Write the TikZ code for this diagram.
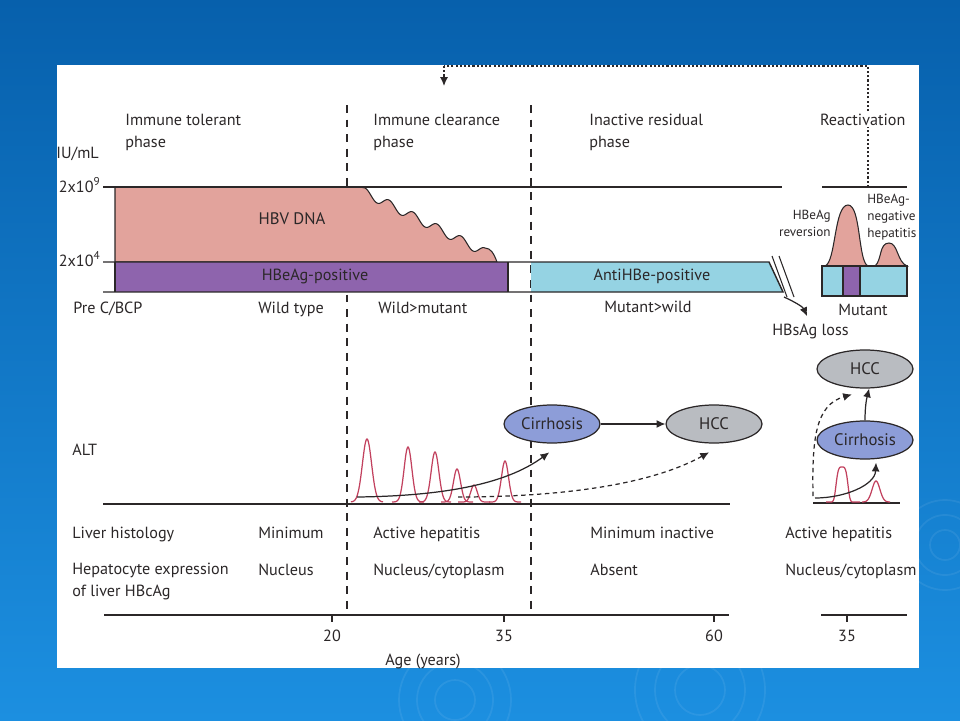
\documentclass[tikz,border=0pt]{standalone}
\usepackage{fontspec}
\setmainfont{PT Sans}
\usepackage{xcolor}
\usetikzlibrary{shapes,arrows.meta}

\definecolor{slidetop}{HTML}{0760AC}
\definecolor{slidebot}{HTML}{1C8FE0}
\definecolor{inkgrey}{HTML}{2B2728}
\definecolor{dnapink}{HTML}{E2A39C}
\definecolor{hbepurple}{HTML}{8E64AD}
\definecolor{antiblue}{HTML}{95D3E3}
\definecolor{cirrblue}{HTML}{8D9DD8}
\definecolor{hccgrey}{HTML}{B9BCC1}
\definecolor{altred}{HTML}{C2415E}

\tikzset{
  txt/.style={font=\fontsize{9.2}{12.5}\selectfont, text=inkgrey, inner sep=0pt},
  phase/.style={txt, anchor=north west, align=left},
  rowlbl/.style={txt, anchor=base west},
  small/.style={font=\fontsize{7.5}{9.6}\selectfont, text=inkgrey, inner sep=0pt},
  axisline/.style={draw=inkgrey, line width=0.8pt},
  phasesep/.style={draw=inkgrey, line width=0.7pt, dash pattern=on 4.5pt off 3.8pt},
  feedback/.style={draw=inkgrey, line width=0.7pt, dash pattern=on 1.2pt off 1.2pt},
  arr/.style={draw=inkgrey, line width=0.7pt, -{Latex[length=5pt,width=4.5pt]}},
  dasharr/.style={arr, dash pattern=on 2.5pt off 2pt},
  stage/.style={ellipse, draw=inkgrey, line width=0.7pt, minimum width=1.92cm,
    minimum height=0.76cm, inner sep=0pt, text=inkgrey, font=\fontsize{9.5}{11}\selectfont},
  altline/.style={draw=altred, line width=0.7pt},
}

\begin{document}
\begin{tikzpicture}[x=0.02cm, y=-0.02cm]
  \useasboundingbox (0,0) rectangle (960,720);
  % slide and panel
  \shade[top color=slidetop, bottom color=slidebot] (0,0) rectangle (960,720);
  \begin{scope}
    \clip (0,0) rectangle (960,720);
    \foreach \r in {20,38,56}
      \draw[white, opacity=0.07, line width=1pt] (455,700) circle (\r);
    \foreach \r in {25,45,65}
      \draw[white, opacity=0.07, line width=1pt] (700,690) circle (\r);
    \foreach \r in {15,30,45}
      \draw[white, opacity=0.07, line width=1pt] (945,545) circle (\r);
  \end{scope}
  \fill[white] (57,65) rectangle (919,668);

  % feedback from reactivation
  \coordinate (fbstart) at (868,187);
  \coordinate (fbend) at (444,86);
  \draw[feedback] (fbstart) -- (868,66) -- (444,66);
  \draw[arr, feedback] (444,66) -- (fbend);

  % phase separators
  \draw[phasesep] (347,105) -- (347,612);
  \draw[phasesep] (531,105) -- (531,612);

  % phase titles
  \node[phase] (ptol) at (125,114) {Immune tolerant\\phase};
  \node[phase] (pclr) at (373,114) {Immune clearance\\phase};
  \node[phase] (pres) at (589,114) {Inactive residual\\phase};
  \node[rowlbl, fill=white, inner sep=1pt] (preact) at (818,125) {Reactivation};

  % HBV DNA levels
  \node[rowlbl] (iu) at (56,158) {IU/mL};
  \node[txt, anchor=base east, font=\fontsize{9.2}{10}\selectfont] (hi) at (101,192) {2x10\textsuperscript{9}};
  \node[txt, anchor=base east, font=\fontsize{9.2}{10}\selectfont] (lo) at (101,266) {2x10\textsuperscript{4}};
  \filldraw[fill=dnapink, draw=inkgrey, line width=0.6pt]
    (115,187) -- (357,187) .. controls (361,187) and (363,187.5) .. (365,188)
    -- plot[domain=365:485, samples=121, smooth] (\x, {198.5+0.5*(\x-377)+4.5*cos(15*(\x-377))})
    .. controls (491,248) and (494,254) .. (497,262)
    -- (115,262) -- cycle;
  \fill[hbepurple] (115,262) rectangle (508,292);
  \fill[antiblue] (531,262) -- (769,262) -- (783,292) -- (531,292) -- cycle;
  \draw[axisline] (103,187) -- (782,187);
  \draw[axisline] (822,187) -- (907,187);
  \draw[axisline] (103,262) -- (769,262) -- (783,292) -- (103,292);
  \draw[axisline] (115,262) -- (115,292);
  \draw[axisline] (508,262) -- (508,292);
  \draw[white, line width=2.5pt] (778,256) -- (790,296);
  \draw[inkgrey, line width=0.6pt] (772,256) -- (787,297);
  \draw[inkgrey, line width=0.6pt] (779,256) -- (794,297);
  \node[txt, font=\fontsize{9.5}{11}\selectfont] (dna) at (292,219) {HBV DNA};
  \node[txt] (epos) at (315,276) {HBeAg-positive};
  \node[txt] (aneg) at (652,276) {AntiHBe-positive};

  % reactivation bar
  \filldraw[fill=dnapink, draw=inkgrey, line width=0.6pt]
    (825,266) .. controls (836,262) and (834,205) .. (848,205)
    .. controls (861,205) and (858,262) .. (868,266) -- cycle;
  \filldraw[fill=dnapink, draw=inkgrey, line width=0.6pt]
    (875,266) .. controls (882,260) and (879,243) .. (889,243)
    .. controls (898,243) and (897,262) .. (907,266) -- cycle;
  \filldraw[fill=antiblue, draw=inkgrey, line width=0.8pt] (822,266) rectangle (907,296);
  \filldraw[fill=hbepurple, draw=inkgrey, line width=0.8pt] (843,266) rectangle (860,296);
  \node[small, anchor=north east, align=right] (rev) at (831,210) {HBeAg\\reversion};
  \node[small, anchor=north west, align=left] (eneg) at (867,194) {HBeAg-\\negative\\hepatitis};

  % precore / BCP
  \node[rowlbl] (pc) at (73,313) {Pre C/BCP};
  \node[rowlbl] (wt) at (258,313) {Wild type};
  \node[rowlbl] (wm) at (378,313) {Wild>mutant};
  \node[txt, anchor=base] (mw) at (648,312) {Mutant>wild};
  \node[txt, anchor=base] (mut) at (863,315) {Mutant};
  \node[rowlbl] (loss) at (772,335) {HBsAg loss};
  \coordinate (cut) at (784,297);
  \draw[arr] (cut) .. controls (795,302) and (803,307) .. ([xshift=20pt,yshift=4pt]loss.north west);

  % ALT
  \node[rowlbl] (alt) at (72,455) {ALT};
  \draw[axisline] (103,504) -- (730,504);
  \draw[axisline] (813,503) -- (900,503);
  \foreach \p/\h/\w in {367/63/6.5, 408/55/5.5, 435/50/5.5, 457/33/5, 474/17/4.5, 505/41/5}
    \draw[altline] plot[domain=\p-16:\p+16, samples=45, smooth]
      (\x, {502-\h*exp(-((\x-\p)/\w)^2)});
  \draw[altline] plot[domain=826:860, samples=45, smooth]
    (\x, {502-35*exp(-((\x-842)/6.5)^4)});
  \draw[altline] plot[domain=862:890, samples=40, smooth]
    (\x, {502-21*exp(-((\x-876)/5.5)^2)});

  \node[stage, fill=cirrblue] (cirr) at (552,424) {Cirrhosis};
  \node[stage, fill=hccgrey] (hcc) at (714,424) {HCC};
  \draw[arr] (cirr) -- (hcc);
  \coordinate (altA) at (357,497);
  \coordinate (altB) at (458,497);
  \draw[arr] (altA) .. controls (440,496) and (505,485) .. ([yshift=-5pt]cirr.262);
  \draw[dasharr] (altB) .. controls (560,497) and (650,485) .. ([yshift=-5pt]hcc.256);

  \node[stage, fill=hccgrey] (rhcc) at (865,369) {HCC};
  \node[stage, fill=cirrblue] (rcirr) at (865,440) {Cirrhosis};
  \draw[arr] (rcirr.north) .. controls +(0,-12) and +(-3,12) .. (rhcc.282);
  \coordinate (raltA) at (815,498);
  \coordinate (raltB) at (813,496);
  \draw[arr] (raltA) .. controls (845,498) and (875,485) .. ([yshift=-2pt]rcirr.300);
  \draw[dasharr] (raltB) .. controls (812,440) and (815,405) .. ([xshift=2pt,yshift=-4pt]rhcc.228);

  % histology rows
  \node[rowlbl] (lh) at (72,538) {Liver histology};
  \node[rowlbl] (lh1) at (258,538) {Minimum};
  \node[rowlbl] (lh2) at (373,538) {Active hepatitis};
  \node[rowlbl] (lh3) at (590,538) {Minimum inactive};
  \node[rowlbl] (lh4) at (785,538) {Active hepatitis};
  \node[phase] (he) at (72,563) {Hepatocyte expression\\of liver HBcAg};
  \node[rowlbl] (he1) at (258,575) {Nucleus};
  \node[rowlbl] (he2) at (373,575) {Nucleus/cytoplasm};
  \node[rowlbl] (he3) at (590,575) {Absent};
  \node[rowlbl] (he4) at (785,575) {Nucleus/cytoplasm};

  % age axis
  \draw[axisline] (104,615) -- (729,615);
  \draw[axisline] (821,615) -- (907,615);
  \foreach \x/\a in {332/20, 504/35, 714/60, 847/35} {
    \draw[axisline] (\x,615) -- (\x,622);
    \node[txt, anchor=base] (age\x) at (\x,641) {\a};
  }
  \node[txt, anchor=base] (agelbl) at (423,665) {Age (years)};
\end{tikzpicture}
\end{document}
